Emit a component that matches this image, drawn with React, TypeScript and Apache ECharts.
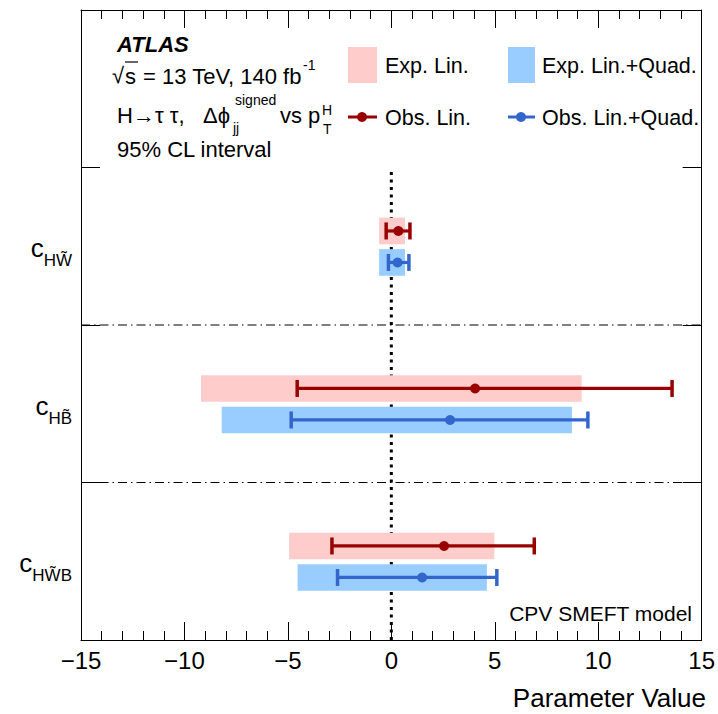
import React, { useEffect, useRef } from 'react';
import * as echarts from 'echarts';

// Parameter rows (top to bottom): subscripts of c
const categories = ['HW\u0303', 'HB\u0303', 'HW\u0303B'];
const rowCenters = [2.5, 1.5, 0.5];

// Expected 95% CL intervals
const expLinLo = [-0.59, -9.2, -4.94];
const expLinHi = [0.66, 9.2, 4.98];
const expLQLo = [-0.59, -8.2, -4.53];
const expLQHi = [0.66, 8.73, 4.62];

// Observed best fit and 95% CL intervals
const obsLinVal = [0.34, 4.05, 2.55];
const obsLinLo = [-0.25, -4.55, -2.87];
const obsLinHi = [0.9, 13.57, 6.91];
const obsLQVal = [0.3, 2.84, 1.49];
const obsLQLo = [-0.14, -4.84, -2.6];
const obsLQHi = [0.85, 9.5, 5.1];

const xTickValues = [-15, -10, -5, 0, 5, 10, 15];
const xTickLabels = ['\u221215', '\u221210', '\u22125', '0', '5', '10', '15'];

const FONT = '"Liberation Sans", Arial, Helvetica, sans-serif';
const RED = '#990000';
const BLUE = '#3366cc';
const RED_FILL = '#ffcccc';
const BLUE_FILL = '#99ccff';

const OFF_RED = 0.097;
const OFF_BLUE = -0.103;
const BAR_H = 0.169;

function barRender(fill: string) {
  return (params: any, api: any) => {
    const y = api.value(2);
    const p1 = api.coord([api.value(0), y]);
    const p2 = api.coord([api.value(1), y]);
    const h = api.size([0, BAR_H])[1];
    return {
      type: 'rect',
      shape: { x: p1[0], y: p1[1] - h / 2, width: p2[0] - p1[0], height: h },
      style: { fill },
    };
  };
}

function errRender(color: string) {
  return (params: any, api: any) => {
    const y = api.value(3);
    const pl = api.coord([api.value(0), y]);
    const pc = api.coord([api.value(1), y]);
    const ph = api.coord([api.value(2), y]);
    const capH = 17;
    const capW = 3.5;
    return {
      type: 'group',
      children: [
        { type: 'line', shape: { x1: pl[0], y1: pl[1], x2: ph[0], y2: ph[1] }, style: { stroke: color, lineWidth: 3.2 } },
        { type: 'rect', shape: { x: pl[0] - capW / 2, y: pl[1] - capH / 2, width: capW, height: capH }, style: { fill: color } },
        { type: 'rect', shape: { x: ph[0] - capW / 2, y: ph[1] - capH / 2, width: capW, height: capH }, style: { fill: color } },
        { type: 'circle', shape: { cx: pc[0], cy: pc[1], r: 5 }, style: { fill: color } },
      ],
    };
  };
}

function labelRender(params: any, api: any) {
  const y = api.value(1);
  const idx = api.value(2);
  const p = api.coord([-15, y]);
  return {
    type: 'text',
    x: p[0] - 9,
    y: p[1] + 6,
    style: {
      text: '{c|c}{s|' + categories[idx] + '}',
      align: 'right',
      verticalAlign: 'middle',
      fill: '#000',
      fontFamily: FONT,
      rich: {
        c: { fontSize: 26, lineHeight: 34, verticalAlign: 'top', fontFamily: FONT, fill: '#000' },
        s: { fontSize: 17, lineHeight: 34, verticalAlign: 'bottom', fontFamily: FONT, fill: '#000' },
      },
    },
  };
}

function txt(x: number, y: number, text: string, size: number, extra: any = {}) {
  return {
    type: 'text',
    x,
    y,
    style: {
      text,
      fontSize: size,
      fontFamily: FONT,
      fill: '#000',
      align: 'left',
      verticalAlign: 'middle',
      ...extra,
    },
  };
}

export default function App() {
  const ref = useRef<HTMLDivElement>(null);

  useEffect(() => {
    if (!ref.current) return;
    const chart = echarts.init(ref.current, undefined, { renderer: 'svg' });

    const axisCommon = {
      type: 'value' as const,
      min: -15,
      max: 15,
      interval: 5,
      splitLine: { show: false },
      axisLine: { show: true, onZero: false, lineStyle: { color: '#000', width: 1 } },
      axisTick: { show: true, inside: true, length: 18, lineStyle: { color: '#000', width: 1 } },
      minorTick: { show: true, splitNumber: 5, length: 9, lineStyle: { color: '#000', width: 1 } },
    };

    const yCommon = {
      type: 'value' as const,
      min: 0,
      max: 4,
      interval: 1,
      splitLine: { show: false },
      axisLine: { show: true, onZero: false, lineStyle: { color: '#000', width: 1 } },
      axisTick: { show: true, inside: true, length: 19, lineStyle: { color: '#000', width: 1 } },
      axisLabel: { show: false },
    };

    const option: any = {
      animation: false,
      backgroundColor: '#fff',
      grid: { left: 81, right: 13, top: 10, bottom: 74 },
      xAxis: [
        {
          ...axisCommon,
          position: 'bottom',
          axisLabel: {
            show: true,
            fontSize: 24,
            fontFamily: FONT,
            color: '#000',
            margin: 8,
            formatter: (v: number) => {
              const i = xTickValues.indexOf(v);
              return i >= 0 ? xTickLabels[i] : '';
            },
          },
        },
        { ...axisCommon, position: 'top', axisLabel: { show: false } },
      ],
      yAxis: [
        { ...yCommon, position: 'left' },
        { ...yCommon, position: 'right' },
      ],
      series: [
        {
          type: 'line',
          data: [[0, 0], [0, 3]],
          symbol: 'none',
          lineStyle: { color: '#000', width: 3, type: [3, 4.5] },
          z: 1,
          silent: true,
        },
        {
          type: 'line',
          data: [[-15, 1], [15, 1]],
          symbol: 'none',
          lineStyle: { color: '#000', width: 1, type: [9, 4, 1.5, 4] },
          z: 1,
          silent: true,
        },
        {
          type: 'line',
          data: [[-15, 2], [15, 2]],
          symbol: 'none',
          lineStyle: { color: '#000', width: 1, type: [9, 4, 1.5, 4] },
          z: 1,
          silent: true,
        },
        {
          type: 'custom',
          name: 'Exp. Lin.',
          renderItem: barRender(RED_FILL),
          data: rowCenters.map((c, i) => [expLinLo[i], expLinHi[i], c + OFF_RED]),
          encode: { x: [0, 1], y: 2 },
          z: 2,
        },
        {
          type: 'custom',
          name: 'Exp. Lin.+Quad.',
          renderItem: barRender(BLUE_FILL),
          data: rowCenters.map((c, i) => [expLQLo[i], expLQHi[i], c + OFF_BLUE]),
          encode: { x: [0, 1], y: 2 },
          z: 2,
        },
        {
          type: 'custom',
          name: 'Obs. Lin.',
          renderItem: errRender(RED),
          data: rowCenters.map((c, i) => [obsLinLo[i], obsLinVal[i], obsLinHi[i], c + OFF_RED]),
          encode: { x: [0, 1, 2], y: 3 },
          z: 3,
        },
        {
          type: 'custom',
          name: 'Obs. Lin.+Quad.',
          renderItem: errRender(BLUE),
          data: rowCenters.map((c, i) => [obsLQLo[i], obsLQVal[i], obsLQHi[i], c + OFF_BLUE]),
          encode: { x: [0, 1, 2], y: 3 },
          z: 3,
        },
        {
          type: 'custom',
          name: 'labels',
          renderItem: labelRender,
          clip: false,
          data: rowCenters.map((c, i) => [-15, c, i]),
          encode: { x: 0, y: 1 },
          z: 3,
        },
      ],
      graphic: [
        txt(117, 44, 'ATLAS', 22, { fontWeight: 'bold', fontStyle: 'italic' }),
        txt(112, 75, '\u221A', 22),
        { type: 'line', shape: { x1: 125, y1: 62, x2: 138, y2: 62 }, style: { stroke: '#000', lineWidth: 1.2 } },
        txt(125, 76, 's', 22),
        txt(143, 76, '= 13 TeV, 140 fb', 22),
        txt(303, 65, '-1', 14),
        txt(117, 115, 'H\u2192\u03C4 \u03C4,', 22),
        txt(203, 115, '\u0394\u03D5', 22),
        txt(235, 100, 'signed', 14),
        txt(233, 128, 'jj', 14),
        txt(280, 115, 'vs p', 22),
        txt(322, 110, 'H', 14),
        txt(323, 129, 'T', 14),
        txt(117, 149, '95% CL interval', 22),
        { type: 'rect', shape: { x: 348, y: 47, width: 29, height: 36 }, style: { fill: RED_FILL } },
        txt(385, 66, 'Exp. Lin.', 21.5),
        { type: 'rect', shape: { x: 508, y: 47, width: 27, height: 36 }, style: { fill: BLUE_FILL } },
        txt(542, 66, 'Exp. Lin.+Quad.', 21.5),
        { type: 'line', shape: { x1: 348, y1: 117, x2: 377, y2: 117 }, style: { stroke: RED, lineWidth: 3 } },
        { type: 'circle', shape: { cx: 362, cy: 117, r: 5 }, style: { fill: RED } },
        txt(385, 118, 'Obs. Lin.', 21.5),
        { type: 'line', shape: { x1: 508, y1: 117, x2: 535, y2: 117 }, style: { stroke: BLUE, lineWidth: 3 } },
        { type: 'circle', shape: { cx: 521, cy: 117, r: 5 }, style: { fill: BLUE } },
        txt(542, 118, 'Obs. Lin.+Quad.', 21.5),
        txt(692, 613, 'CPV SMEFT model', 21, { align: 'right' }),
        txt(706, 698, 'Parameter Value', 26, { align: 'right' }),
      ],
    };

    chart.setOption(option);
    return () => chart.dispose();
  }, []);

  return (
    <div
      ref={ref}
      style={{ position: 'absolute', left: 0, top: 0, width: 718, height: 714, background: '#fff' }}
    />
  );
}
